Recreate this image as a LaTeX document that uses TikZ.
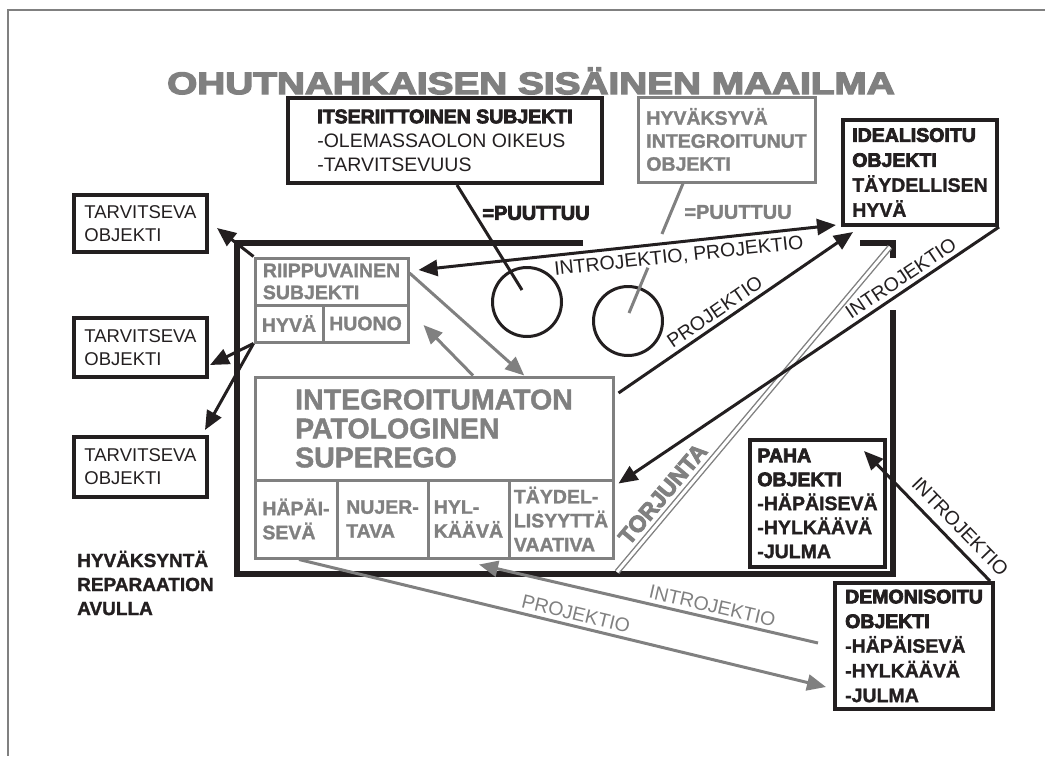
\documentclass[tikz,border=0pt]{standalone}
\usepackage{graphicx}
\usepackage{fontspec}
\setmainfont{Liberation Sans}[BoldFeatures={RawFeature={embolden=1.5}}]
\newfontfamily\heavyfont[RawFeature={embolden=4}]{Liberation Sans Bold}
\newcommand\hvy{\heavyfont\mdseries}
\usetikzlibrary{arrows.meta, calc}
\definecolor{ink}{gray}{0.5}
\definecolor{dark}{HTML}{231F20}

\begin{document}
\begin{tikzpicture}[x=1pt, y=-1pt,
    % box styles
    objbox/.style={rectangle, draw=dark, line width=4pt, inner sep=0pt, align=left,
                   text=dark, font=\fontsize{18.5}{23}\selectfont},
    badbox/.style={objbox, font=\fontsize{19.5}{24}\selectfont\bfseries},
    inbox/.style={rectangle, draw=ink, line width=3pt, inner sep=0pt, align=left,
                  text=ink, font=\fontsize{19.5}{24}\selectfont\bfseries},
    hole/.style={circle, draw=dark, line width=3pt, minimum size=69pt, inner sep=0pt},
    % lines and labels
    frame/.style={draw=dark, line width=5.5pt},
    arrow/.style={draw=dark, line width=3pt, -{Triangle[length=19pt, width=16pt]}},
    dblarrow/.style={draw=dark, line width=3pt,
                     {Triangle[length=19pt, width=16pt]}-{Triangle[length=19pt, width=16pt]}},
    grayarrow/.style={draw=ink, line width=3pt, -{Triangle[length=19pt, width=16pt]}},
    lbl/.style={font=\fontsize{19.5}{19.5}\selectfont, text=dark, inner sep=1pt},
    graylbl/.style={lbl, text=ink}
]
\useasboundingbox (0,0) rectangle (1045,756);

% page edge
\draw[ink, line width=1.5pt] (1045,10) -- (8,10) -- (8,756);

% Title
\node[text=ink, font=\hvy\fontsize{31}{31}\selectfont] (title) at (531,81)
    {\scalebox{1.25}[1]{OHUTNAHKAISEN SISÄINEN MAAILMA}};

% Objects outside
\node[objbox, font=\fontsize{19.5}{24}\selectfont, minimum width=314pt, minimum height=85pt] (itse) at (445,140.5)
    {{\hvy ITSERIITTOINEN SUBJEKTI}\\-OLEMASSAOLON OIKEUS\\-TARVITSEVUUS};
\node[inbox, font=\fontsize{19.5}{23}\selectfont\bfseries, minimum width=177pt, minimum height=85pt] (accept) at (726.5,139.5)
    {HYVÄKSYVÄ\\INTEGROITUNUT\\OBJEKTI};
\node[badbox, font=\fontsize{19.5}{25}\selectfont\bfseries, minimum width=154pt, minimum height=105pt] (ideal) at (920,172.5)
    {{\hvy IDEALISOITU}\\{\hvy OBJEKTI}\\TÄYDELLISEN\\HYVÄ};
\foreach \i/\cy/\h in {1/223.5/57, 2/347.5/59, 3/467/60} {
    \node[objbox, minimum width=133pt, minimum height=\h pt] (need\i) at (140.5,\cy) {TARVITSEVA\\OBJEKTI};
}
\node[lbl, font=\fontsize{19}{24}\selectfont\bfseries, align=left, anchor=west] (repair) at (76,583)
    {HYVÄKSYNTÄ\\REPARAATION\\AVULLA};
\node[badbox, minimum width=158pt, minimum height=126pt, font=\fontsize{19.5}{24.7}\selectfont\bfseries] (demon) at (914,646)
    {{\hvy DEMONISOITU}\\{\hvy OBJEKTI}\\-HÄPÄISEVÄ\\-HYLKÄÄVÄ\\-JULMA};

% Missing parts
\node[lbl, font=\hvy\fontsize{20}{20}\selectfont] (miss1) at (536,213) {=PUUTTUU};
\node[graylbl, font=\fontsize{20}{20}\selectfont\bfseries] (miss2) at (738,212) {=PUUTTUU};
\node[hole] (hole1) at (527,302) {};
\node[hole] (hole2) at (628,321) {};

% Inner world frame
\draw[frame] (583,243) -- (237,243) -- (237,574) -- (893,574) -- (893,310);
\draw[frame] (860,243) -- (893,243) -- (893,258);

% Dependent subject
\node[inbox, font=\fontsize{19.5}{22}\selectfont\bfseries, minimum width=153pt, minimum height=47pt] (dep) at (331.5,281.5)
    {RIIPPUVAINEN\\SUBJEKTI};
\node[inbox, minimum width=68pt, minimum height=37pt] (good) at (289,323.5) {HYVÄ};
\node[inbox, minimum width=85pt, minimum height=37pt] (poor) at (365.5,323.5) {HUONO};

% Superego
\node[inbox, font=\fontsize{28.5}{29}\selectfont\bfseries, minimum width=358pt, minimum height=103pt] (sup) at (434,428.5)
    {INTEGROITUMATON\\PATOLOGINEN\\SUPEREGO};
\node[inbox, minimum width=82pt, minimum height=78pt] (c1) at (296,519) {HÄPÄI-\\SEVÄ};
\node[inbox, minimum width=91pt, minimum height=78pt] (c2) at (382.5,519) {NUJER-\\TAVA};
\node[inbox, minimum width=81pt, minimum height=78pt] (c3) at (468.5,519) {HYL-\\KÄÄVÄ};
\node[inbox, minimum width=104pt, minimum height=78pt] (c4) at (561,519) {TÄYDEL-\\LISYYTTÄ\\VAATIVA};

% Bad object
\node[badbox, minimum width=135pt, minimum height=127pt] (bad) at (817.5,503.5)
    {{\hvy PAHA}\\{\hvy OBJEKTI}\\-HÄPÄISEVÄ\\-HYLKÄÄVÄ\\-JULMA};

% Connections
% pointers to the holes
\draw[dark, line width=3pt] ([xshift=12pt]itse.south) -- ([shift={(-5pt,12pt)}]hole1.center);
\coordinate (gTop) at ([xshift=-43.5pt]accept.south);
\coordinate (gEnd) at ([shift={(1pt,8pt)}]hole2.center);
\draw[ink, line width=3pt] (gTop) -- ($(gTop)!0.39!(gEnd)$) ($(gTop)!0.65!(gEnd)$) -- (gEnd);

% Torjunta
\coordinate (torjA) at (617,572);
\coordinate (torjB) at (890,247);
\draw[draw=ink, line width=1.4pt, double=white, double distance=3pt] (torjA) -- (torjB)
    node[pos=0.21, sloped, above=3pt, text=ink, font=\hvy\fontsize{23}{23}\selectfont] {TORJUNTA};

% To needing objects
\draw[arrow] (dep.north west) -- ([shift={(8pt,-4.5pt)}]need1.east);
\draw[arrow] (good.south west) -- ([shift={(1pt,-17.5pt)}]need2.east);
\draw[arrow] (good.south west) -- ([shift={(-4pt,5pt)}]need3.north east);

% Idealised object
\draw[dblarrow] ([shift={(9pt,11.5pt)}]dep.east) -- ([shift={(-5pt,2pt)}]ideal.south west)
    node[pos=0.62, sloped, below=4pt, lbl] {INTROJEKTIO, PROJEKTIO};
\draw[arrow] ([shift={(4pt,35.5pt)}]sup.east) -- ([shift={(12pt,-5pt)}]ideal.south west)
    node[pos=0.44, sloped, above=3pt, lbl] {PROJEKTIO};
\draw[arrow] (ideal.south east) -- ([shift={(4pt,-2pt)}]sup.south east)
    node[pos=0.24, sloped, above=3pt, lbl] {INTROJEKTIO};

% Demonised object
\draw[arrow] ([xshift=-5pt]demon.north east) -- ([shift={(-23pt,-13pt)}]bad.north east)
    node[pos=0.33, sloped, above=7pt, lbl] {INTROJEKTIO};

% Inside the superego
\draw[grayarrow] ([yshift=8.5pt]dep.east) -- ($(sup.north)!0.5!(sup.north east)$);
\draw[grayarrow] ([xshift=39pt]sup.north) -- ([shift={(14pt,-1.5pt)}]poor.east);

% Bottom
\draw[grayarrow] ([xshift=3pt]c1.south) -- ([shift={(-7pt,-41pt)}]demon.west)
    node[pos=0.52, sloped, above=3pt, graylbl] {PROJEKTIO};
\draw[grayarrow] ([shift={(-15pt,3pt)}]demon.west) -- ([shift={(10.5pt,-5pt)}]c3.south)
    node[pos=0.32, sloped, above=3pt, graylbl] {INTROJEKTIO};

\end{tikzpicture}
\end{document}
